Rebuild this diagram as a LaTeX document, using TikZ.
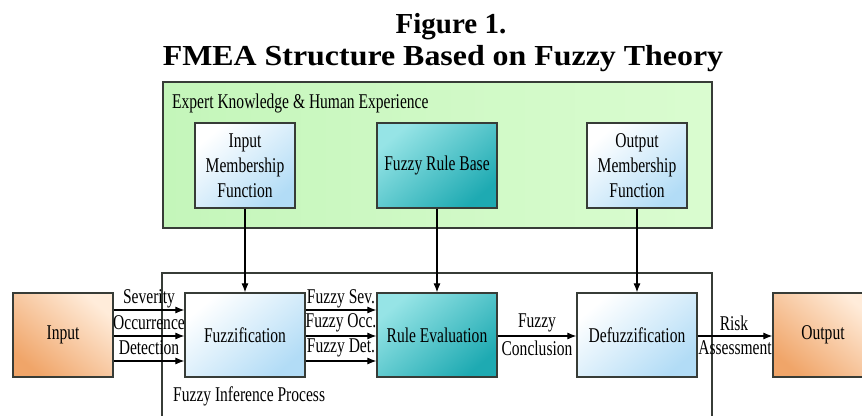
\documentclass[tikz,border=0pt]{standalone}
\usepackage{fontspec}
\setmainfont{Liberation Serif}
\newfontfamily\cond[FakeStretch=0.74]{Liberation Serif}
\newfontfamily\titlefont[FakeStretch=1.10]{Liberation Serif}
\usetikzlibrary{arrows.meta}
\definecolor{edgec}{RGB}{55,60,55}
\definecolor{greenL}{RGB}{196,246,186}
\definecolor{greenR}{RGB}{218,252,208}
\definecolor{blueD}{RGB}{178,220,246}
\definecolor{tealD}{RGB}{30,170,178}
\definecolor{tealL}{RGB}{150,228,230}
\definecolor{orangeD}{RGB}{240,165,105}
\definecolor{orangeL}{RGB}{255,236,218}
\begin{document}
\begin{tikzpicture}[x=1pt,y=-1pt,
  lbl/.style={inner sep=0pt,font=\cond\fontsize{21}{25}\selectfont},
  boxbase/.style={draw=edgec,line width=1.2pt,inner sep=2pt,align=center,
    font=\cond\fontsize{21}{25}\selectfont,minimum height=85pt},
  bluebox/.style={boxbase,top color=white,bottom color=blueD,shading angle=40},
  tealbox/.style={boxbase,top color=tealL,bottom color=tealD,shading angle=40},
  orangebox/.style={boxbase,top color=orangeL,bottom color=orangeD,shading angle=-40},
  arr/.style={draw=black,line width=1.1pt,-{Latex[length=9pt,width=7pt]}}]
\useasboundingbox (0,0) rectangle (862,415);
\fill[white] (0,0) rectangle (862,415);

% title
\node[anchor=base,inner sep=0pt,font=\bfseries\fontsize{29}{32}\selectfont] (t1) at (451,33) {Figure 1.};
\node[anchor=base,inner sep=0pt,font=\titlefont\bfseries\fontsize{29}{32}\selectfont] (t2) at (443,65) {FMEA Structure Based on Fuzzy Theory};

% expert knowledge container
\draw[draw=edgec,line width=1.2pt,left color=greenL,right color=greenR] (163,82) rectangle (712,228);
\node[lbl,anchor=west] (ek) at (172,103) {Expert Knowledge \& Human Experience};

% fuzzy inference frame
\draw[draw=edgec,line width=1.2pt] (162,420) -- (162,273) -- (712,273) -- (712,420);
\node[lbl,anchor=west] (fip) at (173,396) {Fuzzy Inference Process};

% top row
\node[bluebox,minimum width=100pt] (imf) at (245,165.5) {Input\\Membership\\Function};
\node[tealbox,minimum width=120pt] (frb) at (437,165.5) {Fuzzy Rule Base};
\node[bluebox,minimum width=100pt] (omf) at (637,165.5) {Output\\Membership\\Function};

% bottom row
\node[orangebox,minimum width=100pt,minimum height=84pt] (inp) at (63,335) {Input};
\node[bluebox,minimum width=120pt,minimum height=84pt] (fuz) at (245,335) {Fuzzification};
\node[tealbox,minimum width=120pt,minimum height=84pt] (rev) at (437,335) {Rule Evaluation};
\node[bluebox,minimum width=120pt,minimum height=84pt] (dfz) at (637,335) {Defuzzification};
\node[orangebox,minimum width=100pt,minimum height=84pt] (out) at (823,335) {Output};

% vertical arrows
\draw[arr] (imf.south) -- (fuz.north);
\draw[arr] (frb.south) -- (rev.north);
\draw[arr] (omf.south) -- (dfz.north);

% horizontal arrows
\coordinate (r1) at (0,310);
\coordinate (r2) at (0,336);
\coordinate (r3) at (0,361);
\draw[arr] (inp.east |- r1) -- (fuz.west |- r1);
\draw[arr] (inp.east |- r2) -- (fuz.west |- r2);
\draw[arr] (inp.east |- r3) -- (fuz.west |- r3);
\draw[arr] (fuz.east |- r1) -- (rev.west |- r1);
\draw[arr] (fuz.east |- r2) -- (rev.west |- r2);
\draw[arr] (fuz.east |- r3) -- (rev.west |- r3);
\draw[arr] (rev.east |- r2) -- (dfz.west |- r2);
\draw[arr] (dfz.east |- r2) -- (out.west |- r2);

% labels
\node[lbl] (l1) at (149,299) {Severity};
\node[lbl] (l2) at (149,323) {Occurrence};
\node[lbl] (l3) at (149,348) {Detection};
\node[lbl] (m1) at (341,299) {Fuzzy Sev.};
\node[lbl] (m2) at (341,323) {Fuzzy Occ.};
\node[lbl] (m3) at (341,348) {Fuzzy Det.};
\node[lbl] (c1) at (537,323) {Fuzzy};
\node[lbl] (c2) at (537,348) {Conclusion};
\node[lbl] (a1) at (734,323) {Risk};
\node[lbl] (a2) at (735,348) {Assessment};
\end{tikzpicture}
\end{document}
